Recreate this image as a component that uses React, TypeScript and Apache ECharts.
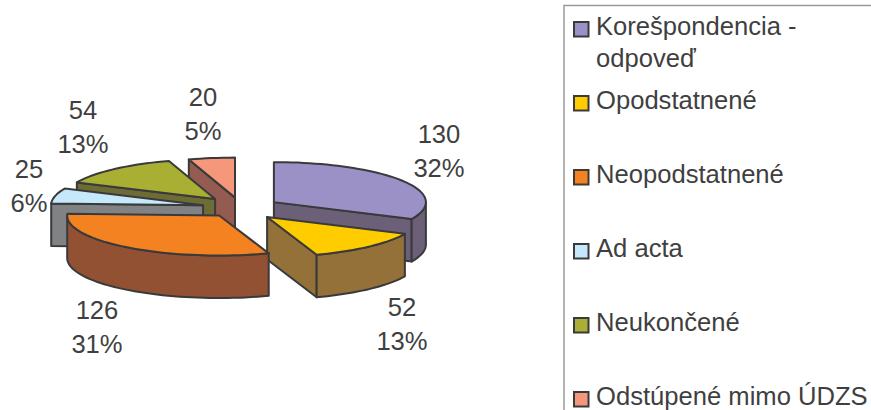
import React, { useEffect, useRef } from "react";
import * as echarts from "echarts";

const categories = ["Korešpondencia -\nodpoveď", "Opodstatnené", "Neopodstatnené", "Ad acta", "Neukončené", "Odstúpené mimo ÚDZS"];
const values = [130, 52, 126, 25, 54, 20];

const topColors = ["#9C91C6", "#FFCC00", "#F58220", "#C5E9FA", "#A8AF33", "#F4977A"];
const wallColors = ["#6B6077", "#937138", "#935133", "#808284", "#6E6C35", "#945B50"];
const drawOrder = [5, 4, 3, 0, 1, 2];

const labelCentres = [[439, 134], [402, 307], [97, 310], [29, 169], [83, 110], [203, 97]];
const legendRows = [28, 102, 176, 250, 324, 398];
const sliceNudge = [[0, 0], [0, 2], [1.5, 0], [0, 0], [0, -1], [0, 0]];

const TEXT = "#3F3F41";
const EDGE = "#3A3A3C";
const FONT = "25.6px 'Liberation Sans'";
const CX = 241, CY = 207.5, RX = 152, RY = 40, DEPTH = 42.5, EX = 39, EY = 10;
const total = values.reduce((a, b) => a + b, 0);
const rad = (v: number) => (v / total) * Math.PI * 2;

function renderSlice(_p: any, api: any) {
  const i = api.value(0);
  const start = values.slice(0, i).reduce((a, b) => a + b, 0);
  const a0 = rad(start);
  const a1 = rad(start + api.value(1));
  const mid = (a0 + a1) / 2;
  const cx = CX + EX * Math.sin(mid) + sliceNudge[i][0];
  const cy = CY - EY * Math.cos(mid) + sliceNudge[i][1];
  const pt = (a: number, d = 0): number[] => [cx + RX * Math.sin(a), cy - RY * Math.cos(a) + d];
  const arc = (from: number, to: number, d = 0) => {
    const out: number[][] = [];
    const n = Math.max(2, Math.ceil(Math.abs(to - from) / 0.04));
    for (let k = 0; k <= n; k++) out.push(pt(from + ((to - from) * k) / n, d));
    return out;
  };
  const style = (fill: string) => ({ fill, stroke: EDGE, lineWidth: 2, lineJoin: "round" });
  const poly = (points: number[][], fill: string) => ({ type: "polygon", shape: { points }, style: style(fill) });
  const children: any[] = [];
  const wall = wallColors[i];
  const apex = [cx, cy];
  const apexLow = [cx, cy + DEPTH];
  if (Math.sin(a0) < -0.001) children.push(poly([apex, pt(a0), pt(a0, DEPTH), apexLow], wall));
  if (Math.sin(a1) > 0.001) children.push(poly([apex, pt(a1), pt(a1, DEPTH), apexLow], wall));
  const wFrom = Math.max(a0, Math.PI / 2);
  const wTo = Math.min(a1, (Math.PI * 3) / 2);
  if (wTo > wFrom) children.push(poly([...arc(wFrom, wTo), ...arc(wTo, wFrom, DEPTH)], wall));
  children.push(poly([apex, ...arc(a0, a1)], topColors[i]));
  const pct = Math.round((values[i] / total) * 100) + "%";
  const [lx, ly] = labelCentres[i];
  [String(values[i]), pct].forEach((t, k) => {
    children.push({
      type: "text",
      style: { text: t, x: lx, y: ly + k * 34, fill: TEXT, font: FONT, textAlign: "center", textVerticalAlign: "middle" },
    });
  });
  return { type: "group", children };
}

export default function App() {
  const ref = useRef<HTMLDivElement>(null);
  useEffect(() => {
    document.body.style.margin = "0";
    const chart = echarts.init(ref.current!, null, { renderer: "svg" });
    const legend: any[] = [
      { type: "polyline", shape: { points: [[564, 420], [564, 5.5], [880, 5.5]] }, style: { fill: "none", stroke: "#9A9A9A", lineWidth: 1.5 } },
    ];
    categories.forEach((c, i) => {
      legend.push({ type: "rect", shape: { x: 574, y: legendRows[i] - 6, width: 14.5, height: 14.5 }, style: { fill: topColors[i], stroke: EDGE, lineWidth: 2 } });
      c.split("\n").forEach((line, k) => {
        legend.push({
          type: "text",
          style: { text: line, x: 596, y: legendRows[i] - 2 + k * 32, fill: TEXT, font: FONT, textAlign: "left", textVerticalAlign: "middle" },
        });
      });
    });
    chart.setOption({
      animation: false,
      backgroundColor: "#fff",
      graphic: legend,
      series: [
        {
          type: "custom",
          coordinateSystem: "none",
          renderItem: renderSlice,
          data: drawOrder.map((i) => [i, values[i]]),
          silent: true,
        },
      ],
    });
    return () => chart.dispose();
  }, []);
  return <div ref={ref} style={{ width: 871, height: 410 }} />;
}
